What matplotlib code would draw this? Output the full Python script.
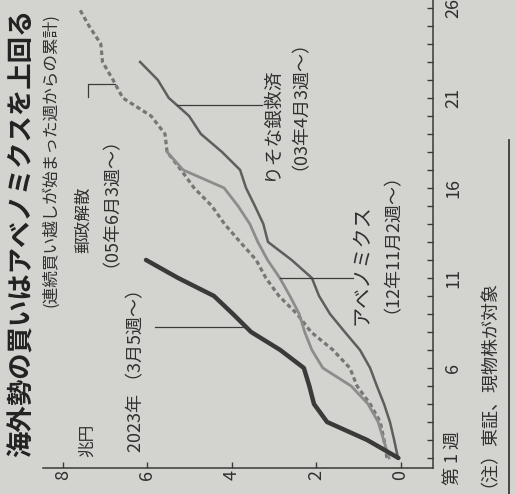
import numpy as np
import matplotlib
matplotlib.use('Agg')
import matplotlib.pyplot as plt
from matplotlib.lines import Line2D

plt.rcParams['font.family'] = ['Noto Sans CJK JP', 'DejaVu Sans']

# cumulative net buying of Japanese stocks by foreign investors (trillion yen),
# counted from the first week of each buying streak
weeks_2023 = list(range(1, 13))
vals_2023 = [0.05, 0.79, 1.74, 2.05, 2.16, 2.29, 2.85, 3.54, 3.97, 4.42, 5.27, 6.03]

weeks_abe = list(range(1, 19))
vals_abe = [0.27, 0.40, 0.53, 0.77, 1.17, 1.84, 2.10, 2.27, 2.40, 2.62, 2.86, 3.15,
            3.38, 3.57, 3.85, 4.18, 5.15, 5.53]

weeks_resona = list(range(1, 24))
vals_resona = [0.06, 0.15, 0.25, 0.39, 0.56, 0.72, 0.96, 1.32, 1.67, 1.93, 2.10, 2.58,
               3.14, 3.25, 3.45, 3.66, 3.80, 4.23, 4.73, 5.01, 5.49, 5.75, 6.17]

weeks_yusei = list(range(1, 27))
vals_yusei = [0.32, 0.39, 0.48, 0.72, 1.03, 1.20, 1.60, 2.12, 2.45, 2.88, 3.19, 3.42,
              3.80, 4.17, 4.47, 4.89, 5.20, 5.53, 5.58, 5.91, 6.58, 6.81, 7.06, 7.10,
              7.38, 7.62]

value_ticks = [0, 2, 4, 6, 8]
week_ticks = list(range(1, 27))
week_labels = {1: '第 1 週', 6: '6', 11: '11', 16: '16', 21: '21', 26: '26'}

W, H = 516, 494
BG = '#d3d3cf'
INK = '#303030'

def fx(px):
    return px / W

def fy(py):
    return 1 - py / H

fig = plt.figure(figsize=(W / 100, H / 100), dpi=100, facecolor=BG)
# the chart is laid out sideways: value axis runs right-to-left, weeks run upward
ax = fig.add_axes([fx(43), fy(468), fx(433) - fx(43), fy(0) - fy(468)])
ax.set_facecolor('none')
ax.set_xlim(8.47, -0.77)
ax.set_ylim(0.444, 26.44)

for side in ['top', 'left']:
    ax.spines[side].set_visible(False)
for side in ['bottom', 'right']:
    ax.spines[side].set_color('#3a3a3a')
    ax.spines[side].set_linewidth(1.1)

ax.set_xticks(value_ticks)
ax.set_xticklabels([str(v) for v in value_ticks])
ax.tick_params(axis='x', direction='in', length=4, width=1, pad=1.5,
               labelsize=13, labelrotation=90, colors='#3a3a3a', labelcolor=INK)

ax.yaxis.tick_right()
ax.set_yticks(week_ticks)
ax.set_yticklabels([week_labels.get(w, '') for w in week_ticks])
ax.tick_params(axis='y', direction='in', length=4, width=1, pad=8,
               labelsize=13, labelrotation=90, colors='#3a3a3a', labelcolor=INK)
for lab in ax.get_yticklabels():
    lab.set_va('center')

# series
ax.plot(vals_yusei, weeks_yusei, color='#767676', lw=2.3,
        linestyle=(0, (1.4, 1.0)), solid_capstyle='butt')
ax.plot(vals_abe, weeks_abe, color='#8c8c8c', lw=2.0)
ax.plot(vals_resona, weeks_resona, color='#5e5e5e', lw=1.8)
ax.plot(vals_2023, weeks_2023, color='#3a3a3a', lw=3.2, solid_capstyle='round')

# leader lines from each series to its label
lead = dict(color='#3c3c3c', lw=0.9)
w = 8.28
ax.plot([np.interp(w, weeks_2023, vals_2023), 5.81], [w, w], **lead)
w = 11.0
ax.plot([np.interp(w, weeks_abe, vals_abe), 1.13], [w, w], **lead)
w = 20.6
ax.plot([np.interp(w, weeks_resona, vals_resona), 3.28], [w, w], **lead)
w = 21.8
ax.plot([np.interp(w, weeks_yusei, vals_yusei), 7.4, 7.4], [w, w, 21.05], **lead)

lab = dict(rotation=90, rotation_mode='anchor', ha='left', va='center', color=INK)
ax.text(6.27, 1.33, '2023年 （3月5週～）', fontsize=13, **lab)
ax.text(0.90, 8.39, 'アベノミクス', fontsize=14.5, **lab)
ax.text(0.42, 9.06, '（12年11月2週～）', fontsize=13, **lab)
ax.text(3.06, 16.44, 'りそな銀救済', fontsize=13.5, **lab)
ax.text(2.60, 17.0, '（03年4月3週～）', fontsize=13, **lab)
ax.text(7.52, 12.4, '郵政解散', fontsize=12, **lab)
ax.text(7.08, 11.6, '（05年6月3週～）', fontsize=13, **lab)
ax.text(7.43, 2.0, '兆円', rotation=90, ha='center', va='center',
        fontsize=12, color=INK)

fig.text(fx(22), fy(233), '海外勢の買いはアベノミクスを上回る', rotation=90,
         ha='center', va='center', fontsize=19, fontweight='bold', color='#222222')
fig.text(fx(51), fy(160), '(連続買い越しが始まった週からの累計)', rotation=90,
         ha='center', va='center', fontsize=12, color=INK)
fig.text(fx(480), fy(487), '（注）東証、現物株が対象', rotation=90,
         ha='center', va='bottom', fontsize=13, color=INK)

# column rule at the right edge
fig.add_artist(Line2D([fx(509), fx(509)], [0, fy(140)], color='#3a3a3a', lw=1.3,
                      transform=fig.transFigure))

fig.savefig('out.png', dpi=100, facecolor=BG)
